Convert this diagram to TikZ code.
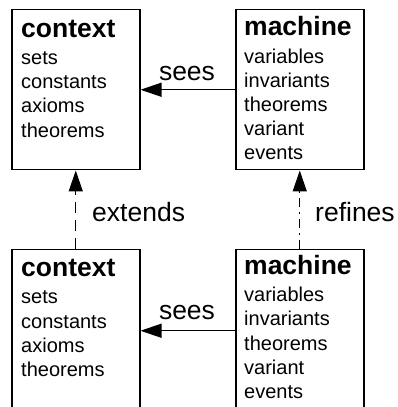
\documentclass[tikz,border=0pt]{standalone}
\usepackage{fontspec}
\setmainfont{Liberation Sans}
\usetikzlibrary{arrows.meta}
\tikzset{
 boxnode/.style={draw, line width=1.5pt, anchor=north west, minimum width=128pt, inner sep=0pt},
 boxtext/.style={anchor=base west, inner sep=0pt, font=\fontsize{20}{24.2}\selectfont},
 lbl/.style={inner sep=0pt, font=\fontsize{26.5}{30}\selectfont},
 conn/.style={line width=1.3pt, -{Triangle[length=21pt,width=14pt]}},
 extconn/.style={conn, dash pattern=on 11pt off 7pt},
 refconn/.style={conn, dash pattern=on 9pt off 5pt on 2pt off 5pt},
}
\newcommand\boxtitle[1]{{\fontsize{26.5}{30}\selectfont\bfseries #1}}
\begin{document}
\begin{tikzpicture}[x=1pt,y=1pt]
\useasboundingbox (0,0) rectangle (397,407);
\clip (0,0) rectangle (397,407);
% boxes
\node[boxnode, minimum height=160pt] (ctx1) at (11,398) {};
\node[boxnode, minimum height=160pt] (mch1) at (235,398) {};
\node[boxnode, minimum height=162pt] (ctx2) at (11,158) {};
\node[boxnode, minimum height=162pt] (mch2) at (235,158) {};
% texts
\node[boxtext] (ctx1t) at (21,369.7) {\begin{tabular}[t]{@{}l@{}}\boxtitle{context}\\[3pt] sets\\ constants\\ axioms\\ theorems\end{tabular}};
\node[boxtext] (mch1t) at (244,371) {\begin{tabular}[t]{@{}l@{}}\boxtitle{machine}\\[3pt] variables\\ invariants\\ theorems\\ variant\\ events\end{tabular}};
\node[boxtext] (ctx2t) at (21,130.3) {\begin{tabular}[t]{@{}l@{}}\boxtitle{context}\\[3pt] sets\\ constants\\ axioms\\ theorems\end{tabular}};
\node[boxtext] (mch2t) at (244,132.5) {\begin{tabular}[t]{@{}l@{}}\boxtitle{machine}\\[3pt] variables\\ invariants\\ theorems\\ variant\\ events\end{tabular}};
% connectors
\draw[conn] (mch1.west) -- (ctx1.east);
\draw[conn] (mch2.west) -- (ctx2.east);
\draw[extconn] (ctx2.north) -- (ctx1.south);
\draw[refconn] (mch2.north) -- (mch1.south);
% labels
\node[lbl, anchor=base] (sees1) at (187,326) {sees};
\node[lbl, anchor=base] (sees2) at (187,87) {sees};
\node[lbl, anchor=base west] (ext) at (92,185.3) {extends};
\node[lbl, anchor=base west] (ref) at (315,185.3) {refines};
\end{tikzpicture}
\end{document}
